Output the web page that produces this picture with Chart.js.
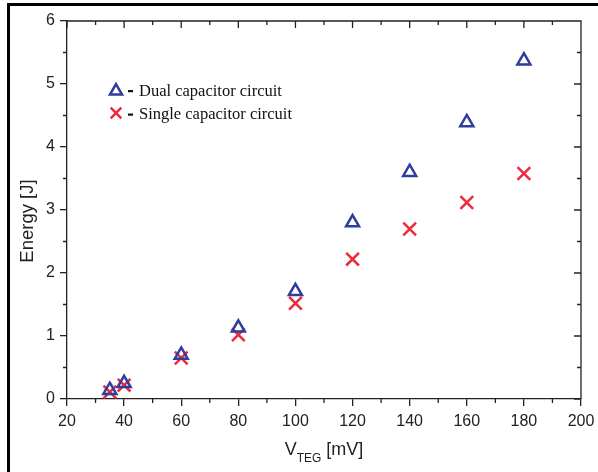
<!DOCTYPE html>
<html>
<head>
<meta charset="utf-8">
<script src="https://cdn.jsdelivr.net/npm/chart.js@4/dist/chart.umd.min.js"></script>
<style>
  html, body { margin: 0; padding: 0; background: #fff; }
  #wrap { width: 598px; height: 472px; position: relative; }
</style>
</head>
<body>
<div id="wrap"><canvas id="myChart" width="598" height="472"></canvas></div>
<script>
// values
var vteg = [35, 40, 60, 80, 100, 120, 140, 160, 180];
var dualEnergy = [0.14, 0.25, 0.70, 1.13, 1.71, 2.80, 3.60, 4.39, 5.37];
var singleEnergy = [0.11, 0.22, 0.65, 1.02, 1.52, 2.22, 2.70, 3.12, 3.58];
var xTicks = [20, 40, 60, 80, 100, 120, 140, 160, 180, 200];
var yTicks = [0, 1, 2, 3, 4, 5, 6];
var xMinor = [30, 50, 70, 90, 110, 130, 150, 170, 190];
var yMinor = [0.5, 1.5, 2.5, 3.5, 4.5, 5.5];
var legendLabels = ['Dual capacitor circuit', 'Single capacitor circuit'];

var blue = '#2f3d9c';
var red = '#ec2a3c';
var axisColor = '#222';

function toPoints(xs, ys) {
    return xs.map(function (x, i) { return { x: x, y: ys[i] }; });
}

// minor ticks, mirrored ticks on top/right, legend, axis titles, frame
var extras = {
    id: 'extras',
    afterDraw: function (chart) {
        var ctx = chart.ctx;
        var a = chart.chartArea;
        var xs = chart.scales.x, ys = chart.scales.y;
        ctx.save();
        ctx.strokeStyle = axisColor;
        ctx.lineWidth = 1.3;
        ctx.beginPath();
        xTicks.forEach(function (v) {
            var px = xs.getPixelForValue(v);
            ctx.moveTo(px, a.top); ctx.lineTo(px, a.top + 7);
        });
        xMinor.forEach(function (v) {
            var px = xs.getPixelForValue(v);
            ctx.moveTo(px, a.bottom); ctx.lineTo(px, a.bottom + 4);
            ctx.moveTo(px, a.top); ctx.lineTo(px, a.top + 4);
        });
        yTicks.forEach(function (v) {
            var py = ys.getPixelForValue(v);
            ctx.moveTo(a.right, py); ctx.lineTo(a.right - 7, py);
        });
        yMinor.forEach(function (v) {
            var py = ys.getPixelForValue(v);
            ctx.moveTo(a.left, py); ctx.lineTo(a.left - 4, py);
            ctx.moveTo(a.right, py); ctx.lineTo(a.right - 4, py);
        });
        // top and right frame of the plot
        ctx.moveTo(a.left, a.top); ctx.lineTo(a.right, a.top); ctx.lineTo(a.right, a.bottom);
        ctx.stroke();

        // legend
        var styles = [
            { pointStyle: 'triangle', radius: 7, rotation: 0, borderWidth: 2.5, color: blue },
            { pointStyle: 'crossRot', radius: 7.5, rotation: 0, borderWidth: 2.5, color: red }
        ];
        var rows = [91, 113];
        styles.forEach(function (s, i) {
            ctx.strokeStyle = s.color;
            ctx.fillStyle = 'rgba(0,0,0,0)';
            ctx.lineWidth = s.borderWidth;
            Chart.helpers.drawPoint(ctx, s, 116, rows[i]);
        });
        ctx.fillStyle = '#111';
        ctx.fillRect(128, 90, 5, 2.2);
        ctx.fillRect(128, 113.5, 5, 2.2);
        ctx.font = '16.5px "Liberation Serif", "Times New Roman", serif';
        ctx.textBaseline = 'alphabetic';
        ctx.textAlign = 'left';
        ctx.fillText(legendLabels[0], 139, 95.5);
        ctx.fillText(legendLabels[1], 139, 118.5);

        // x title with subscript
        ctx.fillStyle = '#222';
        var big = '18px "Liberation Sans", Arial, sans-serif';
        var small = '12px "Liberation Sans", Arial, sans-serif';
        ctx.font = big;
        var w1 = ctx.measureText('V').width;
        var w3 = ctx.measureText(' [mV]').width;
        ctx.font = small;
        var w2 = ctx.measureText('TEG').width;
        var x0 = 324 - (w1 + w2 + w3) / 2;
        ctx.font = big;
        ctx.fillText('V', x0, 455);
        ctx.font = small;
        ctx.fillText('TEG', x0 + w1, 462);
        ctx.font = big;
        ctx.fillText(' [mV]', x0 + w1 + w2, 455);

        // y title
        ctx.font = '18.5px "Liberation Sans", Arial, sans-serif';
        ctx.save();
        ctx.translate(33, 221);
        ctx.rotate(-Math.PI / 2);
        ctx.textAlign = 'center';
        ctx.fillText('Energy [J]', 0, 0);
        ctx.restore();

        // outer frame (top and left)
        ctx.fillStyle = '#000';
        ctx.fillRect(7, 3, 591, 3);
        ctx.fillRect(7, 3, 3, 469);
        ctx.restore();
    }
};

var ctx = document.getElementById('myChart').getContext('2d');
var myChart = new Chart(ctx, {
    type: 'scatter',
    data: {
        datasets: [{
            label: 'Dual capacitor circuit',
            data: toPoints(vteg, dualEnergy),
            pointStyle: 'triangle',
            pointRadius: 7.5,
            borderWidth: 2.5,
            borderColor: blue,
            backgroundColor: 'rgba(0,0,0,0)'
        }, {
            label: 'Single capacitor circuit',
            data: toPoints(vteg, singleEnergy),
            pointStyle: 'crossRot',
            pointRadius: 9,
            borderWidth: 2.5,
            borderColor: red,
            backgroundColor: red
        }]
    },
    options: {
        responsive: false,
        animation: false,
        layout: { padding: { top: 21, right: 17, left: 0, bottom: 0 } },
        plugins: { legend: { display: false }, tooltip: { enabled: false } },
        scales: {
            x: {
                type: 'linear',
                min: 20, max: 200,
                afterBuildTicks: function (s) { s.ticks = xTicks.map(function (v) { return { value: v }; }); },
                afterFit: function (s) { s.height = 73; s.paddingLeft = 0; s.paddingRight = 0; },
                border: { color: axisColor, width: 1.3 },
                grid: { drawOnChartArea: false, drawTicks: true, tickLength: 7, color: axisColor, lineWidth: 1.3 },
                ticks: {
                    color: '#222', padding: 6, maxRotation: 0,
                    font: { family: '"Liberation Sans", Arial, sans-serif', size: 16 }
                }
            },
            y: {
                type: 'linear',
                min: 0, max: 6,
                afterBuildTicks: function (s) { s.ticks = yTicks.map(function (v) { return { value: v }; }); },
                afterFit: function (s) { s.width = 67; s.paddingTop = 0; s.paddingBottom = 0; },
                border: { color: axisColor, width: 1.3 },
                grid: { drawOnChartArea: false, drawTicks: true, tickLength: 7, color: axisColor, lineWidth: 1.3 },
                ticks: {
                    color: '#222', padding: 5,
                    font: { family: '"Liberation Sans", Arial, sans-serif', size: 16 }
                }
            }
        }
    },
    plugins: [extras]
});
</script>
</body>
</html>
